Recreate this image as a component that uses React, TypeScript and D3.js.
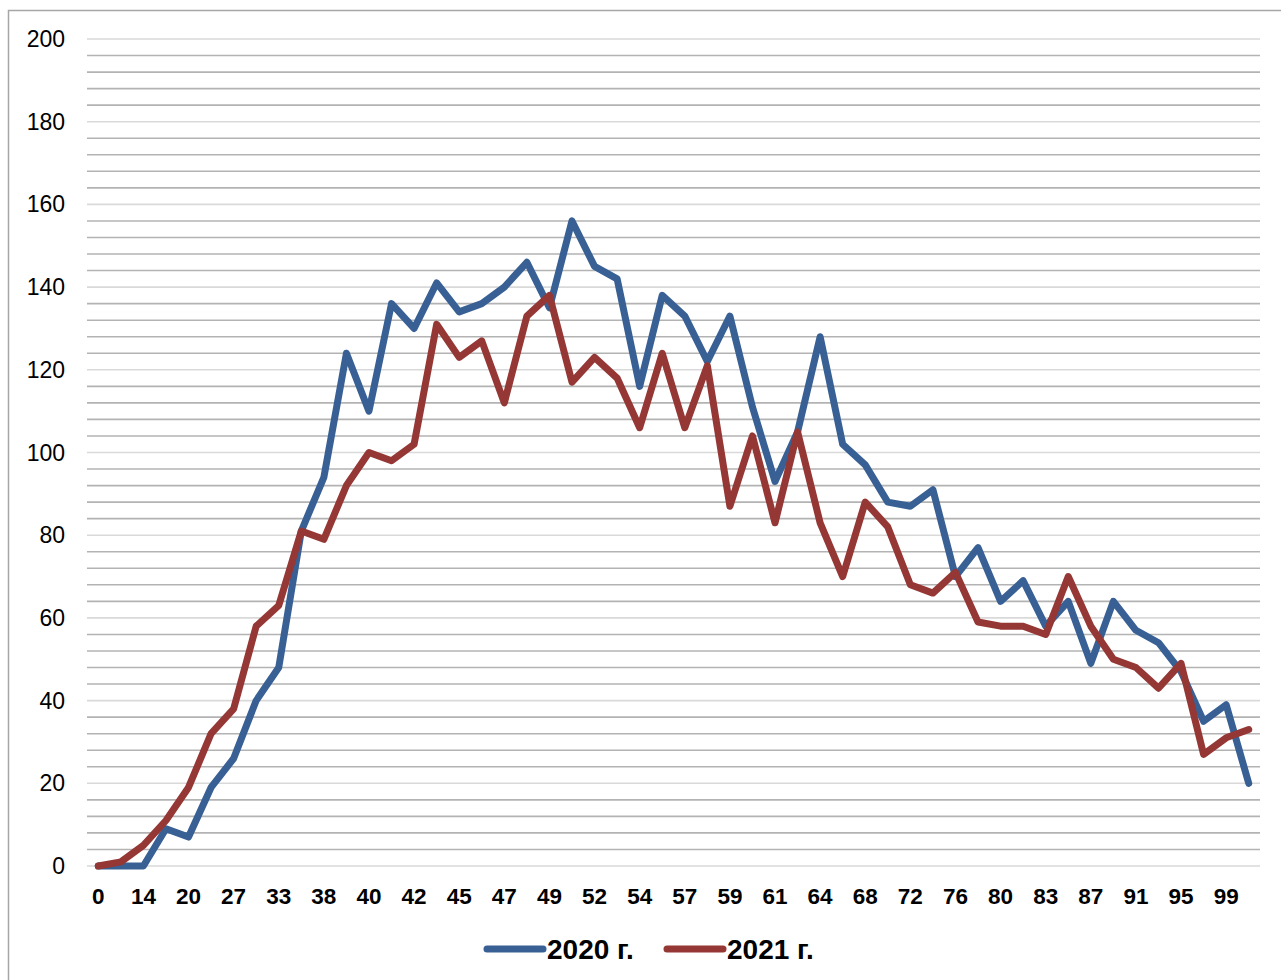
import React, { useRef, useEffect } from 'react';
import * as d3 from 'd3';

// category labels (every other one is shown on the axis)
const categories = [
  '0', '7', '14', '17', '20', '24', '27', '30', '33', '36', '38', '39', '40', '41', '42', '44',
  '45', '46', '47', '48', '49', '51', '52', '53', '54', '56', '57', '58', '59', '60', '61', '63',
  '64', '66', '68', '70', '72', '74', '76', '78', '80', '82', '83', '85', '87', '89', '91', '93',
  '95', '97', '99', '100',
];

const values2020 = [
  0, 0, 0, 9, 7, 19, 26, 40, 48, 81, 94, 124, 110, 136, 130, 141,
  134, 136, 140, 146, 135, 156, 145, 142, 116, 138, 133, 122, 133, 111, 93, 105,
  128, 102, 97, 88, 87, 91, 70, 77, 64, 69, 58, 64, 49, 64, 57, 54,
  47, 35, 39, 20,
];

const values2021 = [
  0, 1, 5, 11, 19, 32, 38, 58, 63, 81, 79, 92, 100, 98, 102, 131,
  123, 127, 112, 133, 138, 117, 123, 118, 106, 124, 106, 121, 87, 104, 83, 105,
  83, 70, 88, 82, 68, 66, 71, 59, 58, 58, 56, 70, 58, 50, 48, 43,
  49, 27, 31, 33,
];

const seriesNames = ['2020 г.', '2021 г.'];
const yTicks = [0, 20, 40, 60, 80, 100, 120, 140, 160, 180, 200];

const colors = ['#386094', '#953735'];
const font = '"Liberation Sans", Arial, sans-serif';

export default function App() {
  const ref = useRef<SVGSVGElement | null>(null);

  useEffect(() => {
    if (!ref.current) return;
    const svg = d3.select(ref.current);
    svg.selectAll('*').remove();

    const width = 1281;
    const height = 980;
    const plot = { left: 87, right: 1260, top: 39, bottom: 866 };

    svg.attr('width', width).attr('height', height);

    // outer chart border
    svg.append('rect')
      .attr('x', 8.5).attr('y', 10.5)
      .attr('width', 1290).attr('height', 990)
      .attr('fill', 'white')
      .attr('stroke', '#a6a6a6')
      .attr('stroke-width', 1.5);

    const idx = categories.map((_, i) => i);
    const x = d3.scalePoint<number>().domain(idx).range([plot.left, plot.right]).padding(0.5);
    const y = d3.scaleLinear().domain([0, 200]).range([plot.bottom, plot.top]);

    // gridlines: minor every 4, major every 20
    const grid = svg.append('g');
    d3.range(0, 201, 4).forEach(v => {
      const major = v % 20 === 0;
      grid.append('line')
        .attr('x1', plot.left).attr('x2', plot.right)
        .attr('y1', y(v)).attr('y2', y(v))
        .attr('stroke', major ? '#d9d9d9' : '#b3b3b3')
        .attr('stroke-width', 1.6);
    });

    // y labels
    svg.append('g')
      .selectAll('text')
      .data(yTicks)
      .enter()
      .append('text')
      .attr('x', 65)
      .attr('y', d => y(d))
      .attr('dy', '0.35em')
      .attr('text-anchor', 'end')
      .style('font-family', font)
      .style('font-size', '23px')
      .attr('fill', '#000')
      .text(d => d);

    // x labels (every other category)
    svg.append('g')
      .selectAll('text')
      .data(idx.filter(i => i % 2 === 0))
      .enter()
      .append('text')
      .attr('x', i => x(i) as number)
      .attr('y', 896)
      .attr('dy', '0.35em')
      .attr('text-anchor', 'middle')
      .style('font-family', font)
      .style('font-size', '22.5px')
      .style('font-weight', 'bold')
      .attr('fill', '#000')
      .text(i => categories[i]);

    const line = d3.line<number>()
      .x((_, i) => x(i) as number)
      .y(d => y(d));

    [values2020, values2021].forEach((vals, k) => {
      svg.append('path')
        .datum(vals)
        .attr('d', line)
        .attr('fill', 'none')
        .attr('stroke', colors[k])
        .attr('stroke-width', 7)
        .attr('stroke-linejoin', 'round')
        .attr('stroke-linecap', 'round');
    });

    // legend
    const legendX = [487, 667];
    const legend = svg.append('g');
    seriesNames.forEach((name, k) => {
      legend.append('line')
        .attr('x1', legendX[k]).attr('x2', legendX[k] + 56)
        .attr('y1', 949).attr('y2', 949)
        .attr('stroke', colors[k])
        .attr('stroke-width', 7)
        .attr('stroke-linecap', 'round');
      legend.append('text')
        .attr('x', legendX[k] + 60)
        .attr('y', 949)
        .attr('dy', '0.35em')
        .style('font-family', font)
        .style('font-size', '28px')
        .style('font-weight', 'bold')
        .attr('fill', '#000')
        .text(name);
    });
  }, []);

  return <svg ref={ref} style={{ position: 'absolute', left: 0, top: 0 }}></svg>;
}
